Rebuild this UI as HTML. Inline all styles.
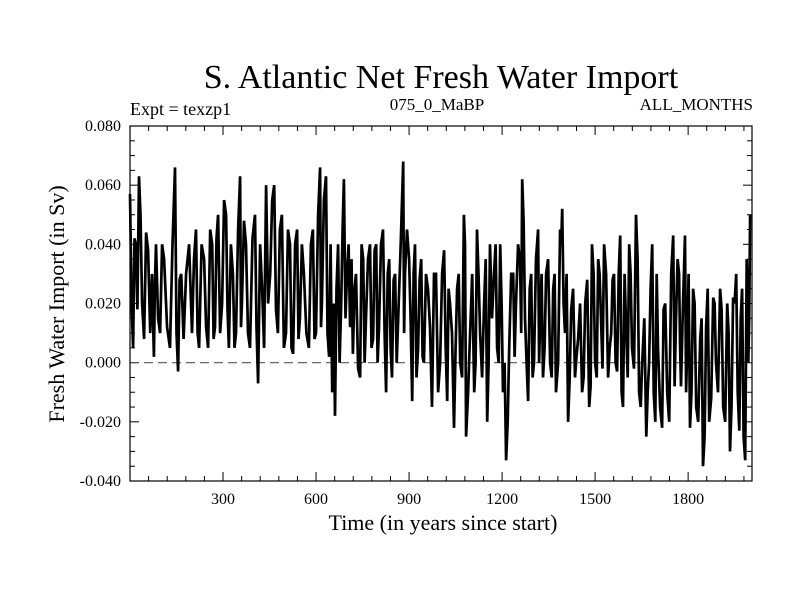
<!DOCTYPE html>
<html><head><meta charset="utf-8"><style>
body{margin:0;background:#fff}
svg text{font-family:"Liberation Serif",serif;fill:#000}
</style></head><body>
<svg id="chart" width="800" height="600">
<text x="441" y="88" font-size="34" text-anchor="middle">S. Atlantic Net Fresh Water Import</text>
<text x="130" y="115" font-size="18">Expt = texzp1</text>
<text x="437" y="110" font-size="17" text-anchor="middle">075_0_MaBP</text>
<text x="753" y="110" font-size="17" text-anchor="end">ALL_MONTHS</text>
<text x="443" y="530" font-size="22" text-anchor="middle">Time (in years since start)</text>
<text transform="translate(64,304) rotate(-90)" font-size="22" text-anchor="middle">Fresh Water Import (in Sv)</text>
<g id="axes"></g>
<path id="series" fill="none" stroke="#000" stroke-width="2.7" stroke-linejoin="miter"></path>
<rect x="130" y="126" width="622" height="355" fill="none" stroke="#000" stroke-width="1.2"></rect>
</svg>
<script>
const years=[0,10,19,29,39,52,65,77,84,97,110,129,145,155,165,181,200,213,223,239,252,265,274,284,297,310,319,332,342,355,361,374,387,403,413,426,439,452,465,477,490,503,516,526,539,548,561,577,590,600,613,619,632,642,652,661,671,681,690,700,710,719,729,742,752,761,774,784,794,803,816,826,836,845,855,865,881,887,900,910,919,929,939,948,961,974,987,1000,1013,1023,1032,1045,1055,1065,1077,1084,1097,1110,1119,1129,1142,1152,1161,1174,1184,1194,1203,1213,1223,1236,1245,1258,1265,1274,1284,1294,1303,1316,1323,1332,1342,1355,1365,1374,1387,1394,1403,1413,1423,1435,1445,1458,1468,1481,1490,1500,1510,1519,1529,1542,1552,1561,1571,1581,1590,1600,1610,1619,1632,1642,1652,1665,1674,1684,1694,1703,1716,1726,1739,1752,1761,1771,1777,1790,1797,1806,1816,1826,1839,1848,1858,1868,1881,1890,1903,1913,1926,1935,1945,1955,1965,1974,1984,1994,2000];
const values=[0.057,0.005,0.040,0.063,0.020,0.044,0.010,0.002,0.040,0.010,0.035,0.005,0.066,-0.003,0.030,0.030,0.010,0.045,0.005,0.035,0.005,0.040,0.012,0.050,0.020,0.050,0.005,0.030,0.010,0.063,0.020,0.040,0.005,0.050,-0.007,0.025,0.060,0.030,0.060,0.010,0.050,0.010,0.040,0.003,0.045,0.015,0.030,0.005,0.045,0.010,0.066,0.020,0.063,0.002,-0.010,-0.018,0.040,0.020,0.062,0.030,0.012,0.003,0.030,-0.005,0.035,0.015,0.040,0.008,0.040,0.012,0.045,-0.010,0.035,-0.005,0.030,0.015,0.068,0.030,0.035,-0.013,0.040,0.005,0.035,0.000,0.025,-0.015,0.030,0.000,0.038,-0.013,0.020,-0.022,0.025,0.000,0.050,-0.025,0.010,-0.010,0.045,0.010,0.020,-0.020,0.040,0.030,0.005,0.040,-0.010,-0.033,0.005,0.030,0.020,0.034,0.062,0.015,-0.013,0.030,0.000,0.045,0.015,-0.005,0.030,0.000,0.025,-0.010,0.045,0.052,0.010,-0.020,0.018,-0.005,0.008,-0.010,0.020,-0.015,0.040,0.000,0.035,0.015,0.040,-0.005,0.010,0.030,-0.003,0.043,-0.015,0.012,0.040,0.005,0.050,-0.010,0.000,-0.025,0.000,0.040,-0.020,0.005,-0.022,0.020,-0.020,0.043,0.015,0.030,-0.008,0.043,0.005,-0.022,0.025,-0.015,0.008,-0.035,0.012,-0.020,0.022,0.000,0.025,-0.015,0.020,-0.030,0.022,0.030,-0.023,0.025,-0.033,0.000,0.050,0.030];
// sub-decadal wiggle values read between the samples above
const midValues=[0.020,0.042,0.018,0.050,0.008,0.038,0.030,0.028,0.015,0.040,0.012,0.040,0.010,0.028,0.008,0.040,0.035,0.010,0.040,0.012,0.045,0.008,0.042,0.010,0.055,0.018,0.040,0.005,0.045,0.012,0.048,0.010,0.042,0.012,0.040,0.005,0.020,0.055,0.018,0.045,0.005,0.045,0.005,0.040,0.008,0.040,0.010,0.040,0.008,0.050,0.012,0.055,0.010,0.040,0.020,0.025,0.000,0.045,0.015,0.040,0.035,0.025,-0.002,0.040,0.000,0.035,0.005,0.038,0.000,0.040,0.010,0.030,0.005,0.028,0.000,0.040,0.010,0.045,0.015,0.030,-0.005,0.028,0.002,0.030,0.012,0.030,-0.010,0.030,0.005,0.025,0.010,0.005,0.030,-0.005,0.040,-0.010,0.030,0.000,0.030,-0.005,0.035,0.000,0.015,0.040,0.000,0.020,0.000,-0.020,0.030,0.002,0.040,0.010,0.048,0.000,0.025,-0.005,0.035,0.000,0.030,0.005,0.035,-0.005,0.030,0.000,0.040,0.020,0.030,-0.005,0.025,0.002,0.020,-0.005,0.028,-0.008,0.030,-0.005,0.030,-0.002,0.030,0.005,0.028,0.000,0.030,-0.010,0.030,-0.005,0.030,-0.002,0.035,-0.015,0.015,-0.010,0.025,-0.010,0.030,-0.015,0.018,-0.010,0.030,-0.008,0.035,0.005,0.020,-0.010,0.030,-0.010,0.020,-0.020,0.015,-0.025,0.025,-0.012,0.020,-0.010,0.018,-0.020,0.010,-0.015,0.020,-0.010,0.015,-0.025,0.035,0.015];
const xTicks=[300,600,900,1200,1500,1800];
const yTicks=[-0.04,-0.02,0,0.02,0.04,0.06,0.08];
const yLabels=["-0.040","-0.020","0.000","0.020","0.040","0.060","0.080"];
const X0=130,X1=752,Y0=481,Y1=126,YMIN=-0.04,YMAX=0.08,XMIN=0,XMAX=2006;
const sx=v=>X0+(v-XMIN)/(XMAX-XMIN)*(X1-X0);
const sy=v=>Y0-(v-YMIN)/(YMAX-YMIN)*(Y0-Y1);
const NS="http://www.w3.org/2000/svg";
const ax=document.getElementById('axes');
function line(x1,y1,x2,y2,w,dash){const l=document.createElementNS(NS,'line');l.setAttribute('x1',x1);l.setAttribute('y1',y1);l.setAttribute('x2',x2);l.setAttribute('y2',y2);l.setAttribute('stroke','#000');l.setAttribute('stroke-width',w);if(dash)l.setAttribute('stroke-dasharray',dash);ax.appendChild(l);return l;}
for(let t=60;t<XMAX;t+=60){const x=sx(t);const major=t%300===0;const len=major?9:5;
const a=line(x,Y0,x,Y0-len,1);


const b=line(x,Y1,x,Y1+len,1);

}
xTicks.forEach(t=>{const tx=document.createElementNS(NS,'text');tx.setAttribute('x',sx(t));tx.setAttribute('y',504);tx.setAttribute('font-size','16');tx.setAttribute('text-anchor','middle');tx.textContent=t;


ax.appendChild(tx);});
for(let i=0;i<=24;i++){const v=YMIN+i*0.005;const y=sy(v);const major=i%4===0;const len=major?9:5;
const a=line(X0,y,X0+len,y,1);


const b=line(X1,y,X1-len,y,1);

}
yTicks.forEach((v,i)=>{const tx=document.createElementNS(NS,'text');tx.setAttribute('x',121);tx.setAttribute('y',sy(v)+5);tx.setAttribute('font-size','16');tx.setAttribute('text-anchor','end');tx.textContent=yLabels[i];


ax.appendChild(tx);});
const z=line(X0,sy(0),X1,sy(0),1.2,'9,5');
z.setAttribute('stroke','#555');


const n=Math.min(years.length,values.length);
let d='';
for(let i=0;i<n;i++){
  d+=(i?'L':'M')+sx(years[i]).toFixed(1)+','+sy(values[i]).toFixed(1);
  if(i<n-1&&i<midValues.length){const my=(years[i]+years[i+1])/2;d+='L'+sx(my).toFixed(1)+','+sy(midValues[i]).toFixed(1);}
}
document.getElementById('series').setAttribute('d',d);
</script>
</body></html>
